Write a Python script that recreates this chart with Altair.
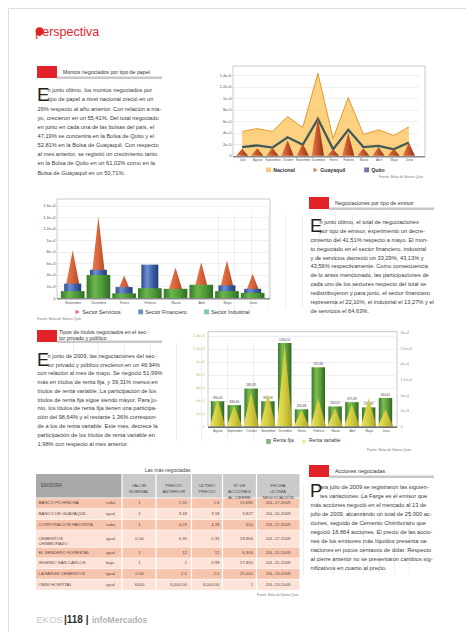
import json
import altair as alt
import pandas as pd

# ------------------------------------------------------------------ data
meses1 = ["Julio", "Agosto", "Septiembre", "Octubre", "Noviembre", "Diciembre",
          "Enero", "Febrero", "Marzo", "Abril", "Mayo", "Junio"]
nacional = [420000, 470000, 420000, 680000, 490000, 1430000,
            300000, 1010000, 370000, 450000, 350000, 500000]
guayaquil = [120000, 130000, 140000, 270000, 210000, 680000,
             110000, 400000, 130000, 150000, 120000, 230000]
quito = [150000, 180000, 140000, 320000, 190000, 640000,
         110000, 450000, 150000, 170000, 110000, 230000]
series1 = ["Nacional", "Guayaquil", "Quito"]

meses2 = ["Noviembre", "Diciembre", "Enero", "Febrero", "Marzo", "Abril", "Mayo", "Junio"]
servicios = [8300, 14100, 3900, 3600, 5300, 6200, 6500, 4200]
financiero = [2500, 4900, 1900, 5800, 1300, 1800, 2200, 1600]
industrial = [1200, 4000, 800, 1700, 1600, 2300, 1200, 900]
series2 = ["Sector Servicios", "Sector Financiero", "Sector Industrial"]

meses3 = ["Agosto", "Septiembre", "Octubre", "Noviembre", "Diciembre", "Enero",
          "Febrero", "Marzo", "Abril", "Mayo", "Junio"]
renta_fija = [390400, 330650, 585850, 390900, 1290510, 265680,
              915800, 310010, 375830, 295870, 440610]
renta_variable = [8700, 6600, 11100, 10400, 26100, 5300, 9000, 5800, 7200, 9000, 5500]
series3 = ["Renta fija", "Renta variable"]

emisoras = ["BANCO PICHINCHA", "BANCO DE GUAYAQUIL", "CORPORACION FAVORITA",
            "CEMENTOS\nCHIMBORAZO", "EL SENDERO FORESTAL", "INGENIO  SAN  CARLOS",
            "LA FARGE CEMENTOS", "OMNI HOSPITAL"]
tendencia = ["sube", "igual", "sube", "igual", "igual", "baja", "igual", "igual"]
valor_nominal = ["1", "1", "1", "0.04", "1", "1", "0.04", "6000"]
precio_anterior = ["1.55", "3.18", "4.23", "0.35", "12", "1", "2.5", "6,000.00"]
ultimo_precio = ["1.6", "3.18", "4.28", "0.35", "12", "0.99", "2.5", "6,000.00"]
acciones = ["15,690", "3,827", "610", "18,864", "6,303", "17,850", "25,000", "1"]
fechas = ["JUL-17-2009", "JUL-10-2009", "JUL-17-2009", "JUL-17-2009",
          "JUL-15-2009", "JUL-15-2009", "JUL-13-2009", "JUL-13-2009"]
cabeceras = ["EMISORA", ["VALOR", "NOMINAL"], ["PRECIO", "ANTERIOR"], ["ULTIMO", "PRECIO"],
             ["Nº DE", "ACCIONES", "AL CIERRE"], ["FECHA", "ULTIMA", "NEGOCIACIÓN"]]

parrafo1 = ["n junio último, los montos negociados por",
            "tipo de papel a nivel nacional  creció en un",
            "26% respecto al año anterior. Con relación a ma-",
            "yo, crecieron en un 55,41%. Del total negociado",
            "en junio en cada una de las bolsas del país, el",
            "47,19% se concentra en la Bolsa de Quito y el",
            "52,81% en la Bolsa de Guayaquil. Con respecto",
            "al mes anterior, se registró un crecimiento tanto",
            "en la Bolsa de Quito en un 61,02%  como en la",
            "Bolsa de Guayaquil en un  50,71%."]
parrafo2 = ["n junio último, el total de negociaciones",
            "por tipo de emisor, experimentó un decre-",
            "cimiento del 41,51% respecto a mayo. El mon-",
            "to negociado en el sector financiero, industrial",
            "y de servicios decreció un 33,29%,  43,13% y",
            "43,56% respectivamente. Como consecuencia",
            "de lo antes mencionado, las participaciones de",
            "cada uno de los sectores respecto del total se",
            "redistribuyeron y para junio, el sector financiero",
            "representa el 22,10%, el industrial el 13,27% y el",
            "de servicios el 64,63%."]
parrafo3 = ["n junio de 2009, las negociaciones del sec-",
            "tor privado y público crecieron en un 48,94%",
            "con relación al mes de mayo. Se negoció 51,99%",
            "más en títulos de renta fija, y 39,31% menos en",
            "títulos de renta variable. La participación de los",
            "títulos de renta fija sigue siendo mayor. Para ju-",
            "nio, los títulos de renta fija tienen una participa-",
            "ción del 98,64% y el restante 1,36% correspon-",
            "de a los de renta variable. Este mes, decrece la",
            "participación de los títulos de renta variable en",
            "1,98% con respecto al mes anterior."]
parrafo4 = ["ara julio de 2009 se registraron las siguien-",
            "tes variaciones: La Farge es el emisor que",
            "más acciones negoció en el mercado al 13 de",
            "julio de 2009, alcanzando un total de 25.000 ac-",
            "ciones, seguido de Cemento Chimborazo que",
            "negoció 18.864 acciones. El precio de las accio-",
            "nes de los emisores más líquidos presenta va-",
            "riaciones en pocos centavos de dólar. Respecto",
            "al cierre anterior no se presentaron cambios sig-",
            "nificativos en cuanto al precio."]
fuente = "Fuente: Bolsa de Valores Quito"

# ------------------------------------------------------------------ layout helpers
W, H, OFF = 458, 624, 8
FONT = "Liberation Sans"
RED = "#e2232a"
BODY = "#3a3a3a"
ONE = alt.Data(values=[{"k": 0}])
layers = []


def P(v):
    return v - OFF


def add(*ls):
    layers.extend(ls)


def text(content, x, y, size, color=BODY, weight="normal", align="left",
         baseline="middle", lh=None, font=FONT):
    props = dict(align=align, baseline=baseline, fontSize=size, color=color,
                 fontWeight=weight, font=font)
    if lh is not None:
        props["lineHeight"] = lh
    return alt.Chart(ONE).mark_text(**props).encode(
        x=alt.value(P(x)), y=alt.value(P(y)), text=alt.value(content))


def rect(x1, x2, y1, y2, fill, **kw):
    return alt.Chart(ONE).mark_rect(fill=fill, **kw).encode(
        x=alt.value(P(x1)), x2=alt.value(P(x2)), y=alt.value(P(y1)), y2=alt.value(P(y2)))


def frame(x1, x2, y1, y2):
    return rect(x1, x2, y1, y2, "white", fillOpacity=0, stroke="#b3b3b3", strokeWidth=0.7)


def header(x, y_top, title, title_x, title_y, lh=None):
    add(rect(x, x + 20, y_top, y_top + 12, RED))
    add(rect(x + 20, x + 125, y_top + 10.5, y_top + 13, "#c8c8c8"))
    add(text(title, title_x, title_y, 5.3, color="#333", lh=lh))


def paragraph(cap, lines, x, x_in, y_first, lh, size=5.7):
    top = y_first - 0.49 * size
    add(text(lines[:2], x_in, top, size, baseline="top", lh=lh))
    add(text(lines[2:], x, top + 2 * lh, size, baseline="top", lh=lh))
    base2 = y_first + lh + 0.3 * size
    cs = (lh + 0.75 * size) / 0.72
    add(text(cap, x - 0.5, base2, cs, color="#222", baseline="alphabetic"))


def cones(values, half):
    rows = []
    for i, v in enumerate(values):
        rows += [dict(g=i, x=i - half, v=0), dict(g=i, x=i, v=v), dict(g=i, x=i + half, v=0)]
    return pd.DataFrame(rows)


def grad(*cols):
    n = len(cols)
    return alt.LinearGradient(gradient="linear", x1=0, x2=1, y1=0, y2=0,
                              stops=[alt.GradientStop(color=c, offset=k / (n - 1))
                                     for k, c in enumerate(cols)])


AX = dict(labelFont=FONT, ticks=False, domain=False, title=None, gridColor="#dedede",
          gridWidth=0.5, labelOverlap=False, labelFlush=False)


def xaxis(names, y_page, size=3.0, pad=2):
    return alt.Axis(orient="bottom", offset=P(y_page) - H, values=list(range(len(names))),
                    labelExpr=json.dumps(names) + "[datum.value]", labelFontSize=size,
                    labelPadding=pad, grid=True, labelAngle=0, labelColor="#555", **AX)


def yaxis(vals, x_page, orient="left", size=4.0, pad=2, color="#555"):
    off = -P(x_page) if orient == "left" else P(x_page) - W
    return alt.Axis(orient=orient, offset=off, values=list(vals), format=",",
                    labelFontSize=size, labelPadding=pad, grid=(orient == "left"),
                    labelColor=color, **AX)


def legend_holder(names, colors, shapes, x, y_center, pad, size=5.0, bold=False):
    lg = alt.Legend(orient="none", legendX=P(x), legendY=P(y_center) - 2.8,
                    direction="horizontal", title=None, labelFont=FONT, labelFontSize=size,
                    labelColor="#333", labelFontWeight="bold" if bold else "normal",
                    symbolSize=24, symbolStrokeWidth=0, columnPadding=pad, labelOffset=2,
                    padding=0)
    return alt.Chart(pd.DataFrame({"s": names})).mark_point(filled=True, size=24).encode(
        x=alt.value(-60), y=alt.value(-60),
        color=alt.Color("s:N", scale=alt.Scale(domain=names, range=colors), legend=lg),
        shape=alt.Shape("s:N", scale=alt.Scale(domain=names, range=shapes), legend=lg))


def bars(df, field, half, sx, sy, fill, xax=None, yax=None):
    return alt.Chart(df).transform_calculate(
        a=f"datum.i - {half}", b=f"datum.i + {half}").mark_rect(color=fill).encode(
        x=alt.X("a:Q", scale=sx, axis=xax), x2="b:Q",
        y=alt.Y(f"{field}:Q", scale=sy, axis=yax), y2=alt.datum(0))


# ------------------------------------------------------------------ masthead
add(text("perspectiva", 35.3, 35.7, 12.5, color=RED, baseline="alphabetic"))
add(alt.Chart(ONE).mark_point(filled=True, size=62, color=RED, opacity=1).encode(
    x=alt.value(P(39.6)), y=alt.value(P(31.3))))

# ------------------------------------------------------------------ section 1
header(37, 66, "Montos negociados por tipo de papel", 63, 71.6)
paragraph("E", parrafo1, 37.5, 47.5, 90, 9.15)

c1x = alt.Scale(domain=[-0.6, 11.6], range=[P(233), P(418)], nice=False, zero=False)
c1y = alt.Scale(domain=[0, 1560000], range=[P(155.7), P(65.8)], nice=False)
d1 = pd.DataFrame({"i": list(range(12)), "nacional": nacional, "quito": quito})
add(frame(233, 425, 66, 156.5))
add(alt.Chart(d1).mark_area(color="#fbbd48", line={"color": "#e39a2f", "strokeWidth": 1}).encode(
    x=alt.X("i:Q", scale=c1x, axis=xaxis(meses1, 156.5)),
    y=alt.Y("nacional:Q", scale=c1y, axis=yaxis(range(0, 1400001, 200000), 233, size=3.8))))
add(alt.Chart(d1).mark_line(color="#3e5b5c", strokeWidth=2.3).encode(
    x=alt.X("i:Q", scale=c1x, axis=None), y=alt.Y("quito:Q", scale=c1y, axis=None)))
add(alt.Chart(cones(guayaquil, 0.4)).mark_area(color=grad("#e27a4a", "#c4522a", "#8c3418")).encode(
    x=alt.X("x:Q", scale=c1x, axis=None), y=alt.Y("v:Q", scale=c1y, axis=None, stack=None),
    detail="g:N"))
add(rect(233, 425, 156, 157.5, "#8a8a8a"))
add(legend_holder(series1, ["#f4b23a", "#b8472a", "#3b3f8c"], ["square", "triangle-right", "square"],
                  266, 170, 18, size=5.2, bold=True))
add(text(fuente, 423, 176.5, 3.2, color="#777", align="right"))

# ------------------------------------------------------------------ section 2
c2x = alt.Scale(domain=[-0.6, 7.6], range=[P(57.3), P(268.1)], nice=False, zero=False)
c2y = alt.Scale(domain=[0, 17200], range=[P(298), P(199)], nice=False)
d2 = pd.DataFrame({"i": list(range(8)), "fin": financiero, "ind": industrial})
add(frame(57, 270, 199, 298.5))
add(alt.Chart(cones(servicios, 0.36)).mark_area(color=grad("#ee8a5e", "#d8623a", "#a8421f")).encode(
    x=alt.X("x:Q", scale=c2x, axis=None), y=alt.Y("v:Q", scale=c2y, axis=None, stack=None),
    detail="g:N"))
add(bars(d2, "fin", 0.33, c2x, c2y, grad("#2b4986", "#6f90d2", "#3c5fa6", "#243f78"),
         xax=xaxis(meses2, 298.5, size=3.3), yax=yaxis(range(0, 16001, 2000), 57)))
add(bars(d2, "ind", 0.46, c2x, c2y, grad("#357a28", "#6bb64c", "#4c9a38", "#2f6d22")))
add(rect(57, 270, 298, 299.5, "#8a8a8a"))
add(legend_holder(series2, ["#e0304a", "#3a5aa0", "#3fb184"], ["triangle-right", "square", "square"],
                  75, 312, 17, size=5.3))
add(text(fuente, 37, 318.5, 3.2, color="#777"))

header(309, 197, "Negociaciones por tipo de emisor", 335, 202.6)
paragraph("E", parrafo2, 310.5, 319.5, 221.7, 8.9)

# ------------------------------------------------------------------ section 3
header(37, 330, ["Tipos de títulos negociados en el sec-", "tor privado y público"], 59, 332.3, lh=6)
paragraph("E", parrafo3, 37.5, 47.5, 355.7, 8.76)

c3x = alt.Scale(domain=[-0.55, 10.55], range=[P(208.3), P(394.7)], nice=False, zero=False)
c3y = alt.Scale(domain=[0, 1466000], range=[P(426.5), P(331.7)], nice=False)
c3y2 = alt.Scale(domain=[0, 30300], range=[P(426.5), P(331.7)], nice=False)
d3 = pd.DataFrame({"i": list(range(11)), "fija": renta_fija})
add(frame(208, 397, 331.7, 427))
add(bars(d3, "fija", 0.4, c3x, c3y, grad("#3a7526", "#7cbf54", "#5a9c3c", "#2f6420"),
         xax=xaxis(meses3, 427, size=3.0),
         yax=yaxis(range(0, 1400001, 200000), 208, pad=4, color="#c4b86a", size=3.7)))
add(alt.Chart(d3).transform_calculate(
    lab="replace(format(datum.fija / 1000, '.2f'), '.', ',')").mark_text(
    fontSize=3.2, dy=-3.5, color="#444", font=FONT).encode(
    x=alt.X("i:Q", scale=c3x, axis=None), y=alt.Y("fija:Q", scale=c3y, axis=None),
    text="lab:N"))
add(alt.Chart(cones(renta_variable, 0.46)).mark_area(
    color=grad("#e9e26a", "#d4cc3c", "#a9a22a")).encode(
    x=alt.X("x:Q", scale=c3x, axis=None),
    y=alt.Y("v:Q", scale=c3y2, stack=None,
            axis=yaxis(range(0, 30001, 5000), 397, orient="right", pad=3, color="#888", size=3.7)),
    detail="g:N"))
add(rect(208, 397, 426.5, 428, "#6a6a6a"))
add(legend_holder(series3, ["#4f9a48", "#e2da48"], ["square", "triangle-right"],
                  266, 441.7, 8, size=4.9))
add(text(fuente, 411, 450, 3.2, color="#777", align="right"))

# ------------------------------------------------------------------ table
cols = [36, 106, 122, 156, 191.5, 222.5, 256.5, 299.5]
row_w = [1, 1, 1, 1.6, 1, 1, 1, 1]
head_w = 2.25
edges = [head_w]
for w in row_w:
    edges.append(edges[-1] + w)
TY = alt.Scale(domain=[0, edges[-1]], range=[P(474), P(590)], nice=False, zero=False)
trows = pd.DataFrame({
    "r": list(range(8)), "emisora": emisoras, "tend": tendencia, "vn": valor_nominal,
    "pa": precio_anterior, "up": ultimo_precio, "acc": acciones, "fecha": fechas,
    "y0": edges[:-1], "y1": edges[1:],
})
trows["ym"] = (trows["y0"] + trows["y1"]) / 2
trows["fill"] = ["#f7c4ae" if r % 2 == 0 else "#fde3d7" for r in range(8)]

add(text("Las más negociadas", 167.7, 470, 5.0, color="#444", align="center"))
add(rect(cols[0], cols[2], 474, 497.7, "#a9a9a9"))
add(rect(cols[2], cols[-1], 474, 497.7, "#cacaca"))
add(alt.Chart(trows).mark_rect().encode(
    x=alt.value(P(cols[0])), x2=alt.value(P(cols[-1])),
    y=alt.Y("y0:Q", scale=TY, axis=None), y2="y1:Q",
    fill=alt.Fill("fill:N", scale=None)))
add(alt.Chart(trows).mark_rule(color="white", strokeWidth=0.6).encode(
    x=alt.value(P(cols[0])), x2=alt.value(P(cols[-1])),
    y=alt.Y("y0:Q", scale=TY, axis=None)))
for e in cols[2:-1]:
    add(rect(e - 0.6, e + 0.6, 474, 590, "white"))

add(text(cabeceras[0], 41, 486, 4.6, color="#4a4a4a"))
for k, lab in enumerate(cabeceras[1:]):
    cx = (cols[k + 2] + cols[k + 3]) / 2
    add(text(lab, cx, 486, 4.4, color="#4a4a4a", align="center", lh=6.2))

ROWTXT = "#5e4740"
cell_specs = [("emisora", 38.5, "left"), ("tend", 106, "left"), ("vn", 139.5, "center"),
              ("pa", 187, "right"), ("up", 219.5, "right"), ("acc", 253, "right"),
              ("fecha", 278, "center")]
for field, xpos, al in cell_specs:
    add(alt.Chart(trows).mark_text(align=al, baseline="middle", fontSize=4.3, font=FONT,
                                   color=ROWTXT, lineBreak="\n", lineHeight=5.7).encode(
        x=alt.value(P(xpos)), y=alt.Y("ym:Q", scale=TY, axis=None), text=f"{field}:N"))
add(text(fuente, 298.5, 594.5, 3.0, color="#777", align="right"))

# ------------------------------------------------------------------ section 4
header(309, 465, "Acciones negociadas", 335, 471)
paragraph("P", parrafo4, 310.5, 320, 486.7, 8.96)

# ------------------------------------------------------------------ footer
add(text("EKOS", 36.5, 623, 9.5, color="#c4c4c4", baseline="alphabetic"))
add(text("|118 |", 64, 622.5, 10, color="#2e2e2e", weight="bold", baseline="alphabetic"))
add(text("infoMercados", 92, 622.5, 8.5, color="#b3b3b3", weight="bold", baseline="alphabetic"))

chart = alt.layer(*layers).resolve_scale(
    x="independent", y="independent", color="independent", shape="independent",
    fill="independent"
).properties(
    width=W, height=H, padding=0, autosize=alt.AutoSizeParams(type="none")
).configure_view(stroke=None).configure(background="white")

chart.save("out.html", embed_options={"renderer": "svg", "actions": False})
